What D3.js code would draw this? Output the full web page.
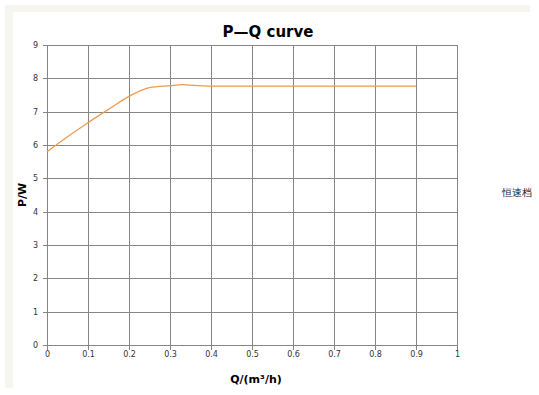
<!DOCTYPE html>
<html>
<head>
<meta charset="utf-8">
<script src="https://cdn.jsdelivr.net/npm/d3@7"></script>
<style>
  body { margin: 0; background: #fff; }
  text { font-family: 'DejaVu Sans', sans-serif; }
</style>
</head>
<body>
<div id="chart"></div>
<script>
// data
const flow = [0, 0.05, 0.1, 0.15, 0.2, 0.25, 0.3, 0.33, 0.36, 0.4, 0.5, 0.6, 0.7, 0.8, 0.9]
const power = [5.8, 6.25, 6.67, 7.07, 7.46, 7.72, 7.78, 7.81, 7.79, 7.77, 7.77, 7.77, 7.77, 7.77, 7.77]
const xTicks = [0, 0.1, 0.2, 0.3, 0.4, 0.5, 0.6, 0.7, 0.8, 0.9, 1]
const yTicks = [0, 1, 2, 3, 4, 5, 6, 7, 8, 9]
const seriesName = '恒速档'

const margin = { top: 45, left: 47, right: 82, bottom: 50 }
const width = 539 - margin.left - margin.right
const height = 395 - margin.top - margin.bottom

const root = d3
  .select('#chart')
  .append('svg')
  .attr('width', 539)
  .attr('height', 395)

// faint strips along the left and top edge
root
  .append('rect')
  .attr('x', 5)
  .attr('y', 5)
  .attr('width', 525)
  .attr('height', 7)
  .attr('fill', '#f6f5ef')
root
  .append('rect')
  .attr('x', 5)
  .attr('y', 5)
  .attr('width', 8)
  .attr('height', 383)
  .attr('fill', '#f6f5ef')

const svg = root
  .append('g')
  .attr('transform', 'translate(' + margin.left + ',' + margin.top + ')')

const xPositionScale = d3.scaleLinear().domain([0, 1]).range([0, width])
const yPositionScale = d3.scaleLinear().domain([0, 9]).range([height, 0])

// grid lines
svg
  .selectAll('.vgrid')
  .data(xTicks)
  .enter()
  .append('line')
  .attr('class', 'vgrid')
  .attr('x1', d => Math.round(xPositionScale(d)) + 0.5)
  .attr('x2', d => Math.round(xPositionScale(d)) + 0.5)
  .attr('y1', 0)
  .attr('y2', height + 5)
  .attr('stroke', '#868686')

svg
  .selectAll('.hgrid')
  .data(yTicks)
  .enter()
  .append('line')
  .attr('class', 'hgrid')
  .attr('x1', -4)
  .attr('x2', width)
  .attr('y1', d => Math.round(yPositionScale(d)) + 0.5)
  .attr('y2', d => Math.round(yPositionScale(d)) + 0.5)
  .attr('stroke', '#868686')

// axes (labels only, lines are the grid)
const xAxis = d3
  .axisBottom(xPositionScale)
  .tickValues(xTicks)
  .tickSize(0)
  .tickPadding(6)
  .tickFormat(d => (d === 0 || d === 1 ? d : d3.format('.1f')(d)))
svg
  .append('g')
  .attr('class', 'axis x-axis')
  .attr('transform', 'translate(0,' + height + ')')
  .call(xAxis)
  .call(g => g.select('.domain').remove())

const yAxis = d3
  .axisLeft(yPositionScale)
  .tickValues(yTicks)
  .tickSize(0)
  .tickPadding(9)
svg
  .append('g')
  .attr('class', 'axis y-axis')
  .call(yAxis)
  .call(g => g.select('.domain').remove())

svg
  .selectAll('.axis text')
  .attr('font-size', 8)
  .attr('fill', '#333')

// the curve
const points = flow.map((q, i) => ({ q: q, p: power[i] }))
const line = d3
  .line()
  .x(d => xPositionScale(d.q))
  .y(d => yPositionScale(d.p))
  .curve(d3.curveMonotoneX)

svg
  .append('path')
  .datum(points)
  .attr('d', line)
  .attr('fill', 'none')
  .attr('stroke', '#ed9a4b')
  .attr('stroke-width', 1.25)

// titles
root
  .append('text')
  .attr('x', 268)
  .attr('y', 37)
  .attr('text-anchor', 'middle')
  .attr('font-size', 15)
  .attr('font-weight', 'bold')
  .text('P—Q curve')

root
  .append('text')
  .attr('x', 256)
  .attr('y', 383)
  .attr('text-anchor', 'middle')
  .attr('font-size', 11)
  .attr('font-weight', 'bold')
  .text('Q/(m³/h)')

root
  .append('text')
  .attr('transform', 'translate(26,195) rotate(-90)')
  .attr('text-anchor', 'middle')
  .attr('font-size', 11)
  .attr('font-weight', 'bold')
  .text('P/W')

// legend
root
  .append('text')
  .attr('x', 502)
  .attr('y', 196)
  .attr('font-size', 10)
  .attr('font-family', 'Noto Sans CJK SC')
  .attr('fill', '#222')
  .text(seriesName)
</script>
</body>
</html>
